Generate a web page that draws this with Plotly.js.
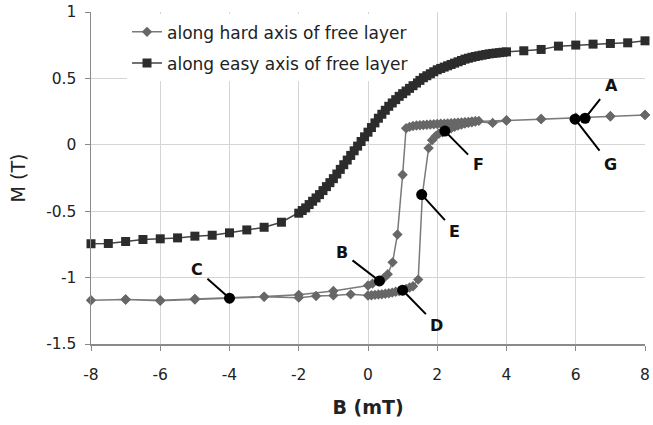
<!DOCTYPE html>
<html>
<head>
<meta charset="utf-8">
<script src="https://cdn.plot.ly/plotly-3.0.1.min.js"></script>
<style>
  html, body { margin: 0; padding: 0; background: #fff; }
  #chart { width: 653px; height: 425px; }
</style>
</head>
<body>
<div id="chart"></div>
<script>
// Magnetisation loop measured along the hard axis of the free layer:
// descending sweep from +8 mT to -8 mT, then ascending sweep back to +8 mT.
const hardB = [
  8, 7, 6, 5, 4, 3.2, 3.1, 3.0, 2.9, 2.8, 2.7, 2.6, 2.5, 2.4, 2.3, 2.2, 2.1, 2.0,
  1.9, 1.8, 1.7, 1.6, 1.5, 1.4, 1.3, 1.2, 1.1, 1.0, 0.85, 0.71, 0.57, 0.45, 0.13,
  0, -1, -2, -3, -4, -5, -6, -7, -8,
  -7, -6, -5, -4, -3, -2, -1.5, -1, -0.5, 0, 0.1, 0.2, 0.3, 0.4, 0.5, 0.6, 0.7,
  0.8, 0.9, 1.0, 1.1, 1.2, 1.3, 1.45, 1.57, 1.75, 1.85, 1.95, 2.05, 2.15, 2.27,
  2.4, 2.5, 2.6, 2.7, 2.8, 2.9, 3.0, 3.1, 3.6, 4, 5, 6, 7, 8
];
const hardM = [
  0.225, 0.215, 0.205, 0.195, 0.185, 0.18, 0.178, 0.175, 0.173, 0.171, 0.169, 0.167, 0.165, 0.163, 0.161, 0.159, 0.158, 0.157,
  0.155, 0.153, 0.151, 0.149, 0.147, 0.145, 0.142, 0.135, 0.125, -0.225, -0.675, -0.885, -0.975, -1.005, -1.045,
  -1.059, -1.101, -1.13, -1.143, -1.151, -1.16, -1.17, -1.165, -1.17,
  -1.165, -1.175, -1.165, -1.157, -1.145, -1.151, -1.139, -1.134, -1.126, -1.135, -1.133, -1.13, -1.127, -1.125, -1.122, -1.118, -1.113,
  -1.107, -1.102, -1.095, -1.085, -1.075, -1.065, -1.015, -0.375, -0.025, 0.035, 0.065, 0.085, 0.095, 0.108,
  0.125, 0.135, 0.145, 0.153, 0.16, 0.165, 0.17, 0.175, 0.165, 0.182, 0.193, 0.205, 0.215, 0.225
];

// Magnetisation measured along the easy axis of the free layer.
const easyB = [
  -8, -7.5, -7, -6.5, -6, -5.5, -5, -4.5, -4, -3.5, -3, -2.5,
  -2.0, -1.9, -1.8, -1.7, -1.6, -1.5, -1.4, -1.3, -1.2, -1.1, -1.0, -0.9, -0.8, -0.7,
  -0.6, -0.5, -0.4, -0.3, -0.2, -0.1, 0.0, 0.1, 0.2, 0.3, 0.4, 0.5, 0.6, 0.7, 0.8,
  0.9, 1.0, 1.1, 1.2, 1.3, 1.4, 1.5, 1.6, 1.7, 1.8, 1.9, 2.0, 2.1, 2.2, 2.3, 2.4,
  2.5, 2.6, 2.7, 2.8, 2.9, 3.0, 3.1, 3.2, 3.3, 3.4, 3.5, 3.6, 3.7, 3.8, 3.9, 4.0,
  4.5, 5, 5.5, 6, 6.5, 7, 7.5, 8
];
const easyM = [
  -0.745, -0.743, -0.728, -0.713, -0.708, -0.701, -0.688, -0.681, -0.663, -0.641, -0.621, -0.583,
  -0.515, -0.495, -0.475, -0.45, -0.425, -0.4, -0.375, -0.345, -0.315, -0.285, -0.255, -0.22, -0.185, -0.15,
  -0.115, -0.08, -0.045, -0.01, 0.025, 0.06, 0.095, 0.13, 0.165, 0.2, 0.23, 0.26, 0.29, 0.315, 0.34,
  0.365, 0.385, 0.405, 0.425, 0.445, 0.465, 0.485, 0.505, 0.52, 0.535, 0.55, 0.565, 0.575, 0.585, 0.595, 0.605,
  0.615, 0.625, 0.635, 0.645, 0.652, 0.659, 0.665, 0.67, 0.675, 0.68, 0.685, 0.688, 0.691, 0.694, 0.697, 0.70,
  0.708, 0.718, 0.743, 0.751, 0.758, 0.763, 0.768, 0.783
];

// Labelled states on the hard-axis loop and where their letters sit.
const stateNames = ["A", "B", "C", "D", "E", "F", "G"];
const stateB = [6.27, 0.33, -4, 1.0, 1.55, 2.22, 5.98];
const stateM = [0.2, -1.025, -1.155, -1.095, -0.375, 0.103, 0.193];
const labelB = [7.02, -0.75, -4.94, 1.99, 2.51, 3.18, 7.0];
const labelM = [0.45, -0.81, -0.94, -1.36, -0.65, -0.15, -0.15];

const xTicks = [-8, -6, -4, -2, 0, 2, 4, 6, 8];
const yTicks = [-1.5, -1, -0.5, 0, 0.5, 1];

const FONT = "DejaVu Sans, Verdana, sans-serif";

const traces = [
  {
    name: "along hard axis of free layer",
    x: hardB, y: hardM,
    type: "scatter", mode: "lines+markers",
    legendgroup: "hard",
    line: { color: "#7a7a7a", width: 1.5 },
    marker: { symbol: "diamond", size: 8, color: "#676767" },
    cliponaxis: false
  },
  {
    name: "along easy axis of free layer",
    x: easyB, y: easyM,
    type: "scatter", mode: "lines+markers",
    legendgroup: "easy",
    line: { color: "#444", width: 1.5 },
    marker: { symbol: "square", size: 9, color: "#2c2c2c" },
    cliponaxis: false
  },
  {
    name: "states",
    x: stateB, y: stateM,
    type: "scatter", mode: "markers",
    marker: { symbol: "circle", size: 11, color: "#000" },
    showlegend: false,
    cliponaxis: false
  }
];

const annotations = stateNames.map((t, i) => ({
  text: "<b>" + t + "</b>",
  x: stateB[i], y: stateM[i], xref: "x", yref: "y",
  ax: labelB[i], ay: labelM[i], axref: "x", ayref: "y",
  showarrow: true, arrowhead: 0, arrowwidth: 2, arrowcolor: "#000",
  standoff: 0, borderpad: 4,
  font: { family: FONT, size: 16, color: "#111" }
}));

const layout = {
  width: 653, height: 425,
  margin: { l: 91, r: 8, t: 12, b: 81 },
  paper_bgcolor: "#fff", plot_bgcolor: "#fff",
  font: { family: FONT, color: "#222" },
  showlegend: true,
  legend: {
    x: 0.065, y: 0.993, xanchor: "left", yanchor: "top",
    bgcolor: "#fff", borderwidth: 0,
    traceorder: "grouped", tracegroupgap: 6,
    font: { family: FONT, size: 17, color: "#222" }
  },
  xaxis: {
    range: [-8, 8], tickvals: xTicks, ticktext: xTicks.map(String),
    showgrid: true, gridcolor: "#d4d4d4", gridwidth: 1,
    zeroline: false, showline: true, linecolor: "#8a8a8a", linewidth: 1.5,
    ticks: "outside", ticklen: 5, tickcolor: "#8a8a8a",
    ticklabelstandoff: 11,
    tickfont: { family: FONT, size: 15.5, color: "#222" },
    title: { text: "<b>B (mT)</b>", font: { family: FONT, size: 19, color: "#222" }, standoff: 17 }
  },
  yaxis: {
    range: [-1.5, 1], tickvals: yTicks, ticktext: yTicks.map(String),
    showgrid: true, gridcolor: "#d4d4d4", gridwidth: 1,
    zeroline: false, showline: true, linecolor: "#8a8a8a", linewidth: 1.5,
    ticks: "outside", ticklen: 5, tickcolor: "#8a8a8a",
    ticklabelstandoff: 5,
    tickfont: { family: FONT, size: 15.5, color: "#222" },
    title: { text: "M (T)", font: { family: FONT, size: 19, color: "#222" }, standoff: 15 }
  },
  annotations: annotations
};

Plotly.newPlot("chart", traces, layout, { displayModeBar: false, staticPlot: true });
</script>
</body>
</html>
